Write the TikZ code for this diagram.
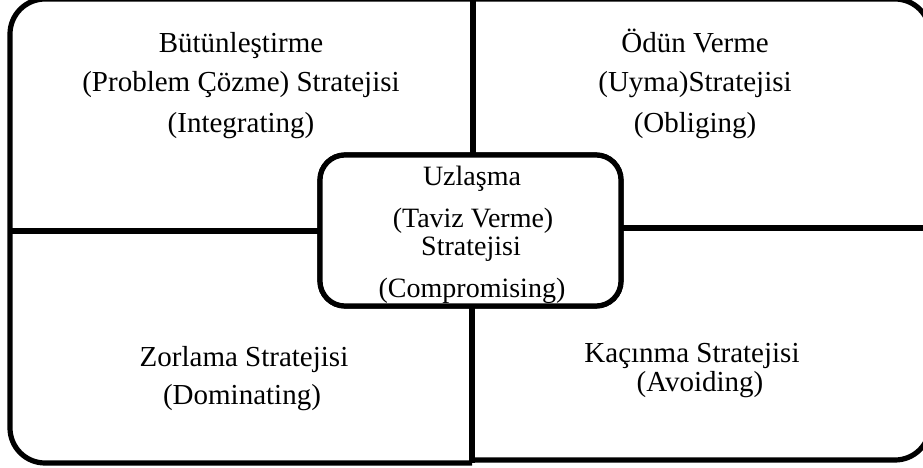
\documentclass[tikz,border=0pt]{standalone}
\usepackage{fontspec}
\setmainfont{Liberation Serif}
\begin{document}
\begin{tikzpicture}[x=1pt,y=-1pt,
  heavy/.style={line width=5.2pt, line cap=butt},
  outerframe/.style={heavy, rounded corners=35pt},
  centerbox/.style={draw, heavy, fill=white, rounded corners=25pt,
    minimum width=301pt, minimum height=151pt, inner sep=0pt, outer sep=0pt},
  txt/.style={font=\fontsize{29}{40}\selectfont, anchor=base, inner sep=0pt},
  ctxt/.style={font=\fontsize{28}{40}\selectfont, anchor=base, inner sep=0pt}]
\useasboundingbox (0,0) rectangle (923,468);

% outer frame: the left and right halves sit slightly apart at the bottom
\coordinate (nw) at (10,-1);
\coordinate (sel) at (930,463);
\coordinate (ser) at (930,460);
\begin{scope}
  \clip (-10,-10) rectangle (472,480);
  \draw[outerframe] (nw) rectangle (sel);
\end{scope}
\begin{scope}
  \clip (472,-10) rectangle (940,480);
  \draw[outerframe] (nw) rectangle (ser);
\end{scope}

% centre box
\node[centerbox] (mid) at (470.5,230.5) {};

% dividing lines, from the frame to the centre box
\coordinate (t) at (473,-1);
\coordinate (b) at (472,463);
\coordinate (l) at (10,231);
\coordinate (r) at (930,228);
\draw[heavy] (t) -- (t |- mid.north);
\draw[heavy] (b |- mid.south) -- (b);
\draw[heavy] (l) -- (l -| mid.west);
\draw[heavy] (mid.east |- r) -- (r);

% redraw the centre box over the line ends
\node[centerbox] (midtop) at (470.5,230.5) {};

% top left
\node[txt] (tl1) at (241,53) {Bütünleştirme};
\node[txt] (tl2) at (241,92) {(Problem Çözme) Stratejisi};
\node[txt] (tl3) at (241,132) {(Integrating)};

% top right
\node[txt] (tr1) at (695,53) {Ödün Verme};
\node[txt] (tr2) at (695,92) {(Uyma)Stratejisi};
\node[txt] (tr3) at (695,132) {(Obliging)};

% centre
\node[ctxt] (c1) at (472,185) {Uzlaşma};
\node[ctxt] (c2) at (473,227) {(Taviz Verme)};
\node[ctxt] (c3) at (471,255) {Stratejisi};
\node[ctxt] (c4) at (472,297) {(Compromising)};

% bottom left
\node[txt] (bl1) at (244,366) {Zorlama Stratejisi};
\node[txt] (bl2) at (242,404) {(Dominating)};

% bottom right
\node[txt] (br1) at (692,362) {Kaçınma Stratejisi};
\node[txt] (br2) at (700,391) {(Avoiding)};
\end{tikzpicture}
\end{document}
